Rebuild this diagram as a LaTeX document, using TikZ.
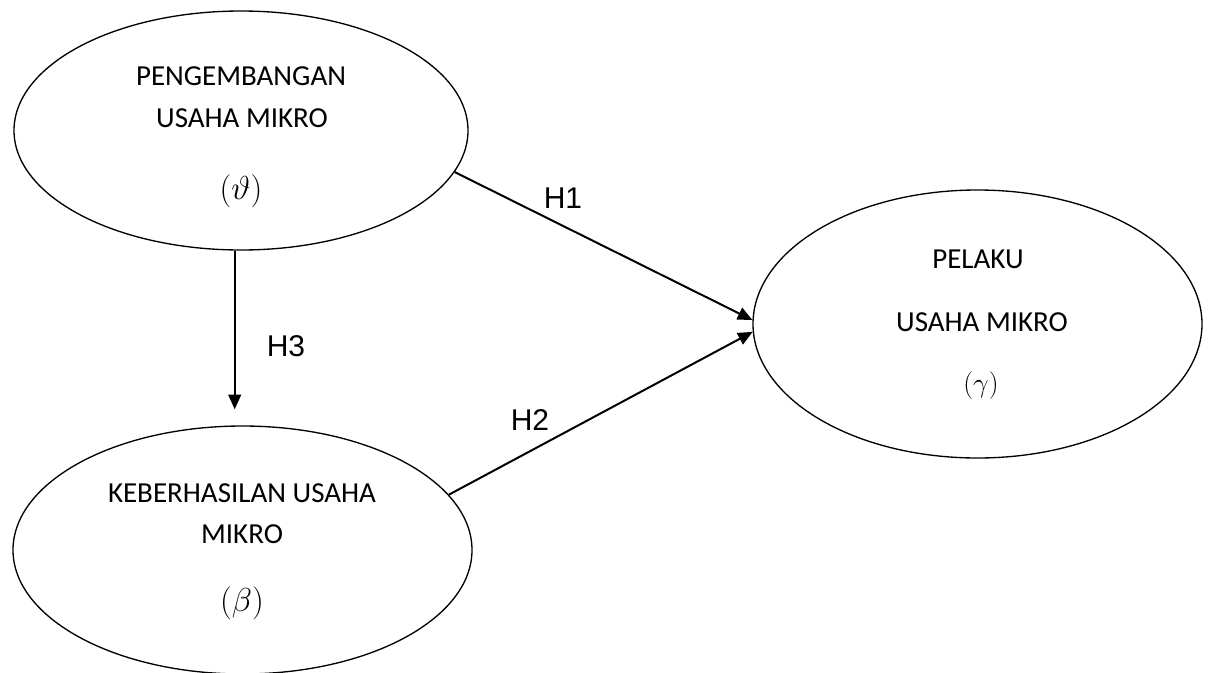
\documentclass[tikz,border=0pt]{standalone}
\usepackage{fontspec}
\newfontfamily\carlito{Carlito}
\newfontfamily\arialf{Liberation Sans}
\usetikzlibrary{shapes.geometric,arrows.meta}
\begin{document}
\begin{tikzpicture}[x=0.75pt,y=-0.75pt,
  ell/.style={draw, ellipse, line width=1pt, inner sep=0pt},
  txt/.style={font=\carlito\fontsize{21.75pt}{26pt}\selectfont, inner sep=0pt},
  sym/.style={font=\fontsize{23.5pt}{28pt}\selectfont, inner sep=0pt},
  symsmall/.style={font=\fontsize{20.5pt}{24pt}\selectfont, inner sep=0pt},
  hyp/.style={font=\arialf\fontsize{22.5pt}{27pt}\selectfont, inner sep=0pt},
  arr/.style={line width=1.5pt, -{Triangle[length=11pt,width=9.5pt]}}]
\useasboundingbox (0,0) rectangle (1211,672);
% ellipses
\node[ell, minimum width=340.5pt, minimum height=179.25pt] (pum) at (241,130.5) {};
\node[ell, minimum width=344.25pt, minimum height=186pt] (kum) at (242.5,550) {};
\node[ell, minimum width=336.75pt, minimum height=201pt] (rel) at (977.5,324) {};
% texts
\node[txt] (pumA) at (241,76) {PENGEMBANGAN};
\node[txt] (pumB) at (242,118) {USAHA MIKRO};
\node[sym] (pumC) at (241,191) {$(\vartheta)$};
\node[txt] (kumA) at (242,493) {KEBERHASILAN USAHA};
\node[txt] (kumB) at (242,534) {MIKRO};
\node[sym] (kumC) at (242,603) {$(\beta)$};
\node[txt] (relA) at (978,259) {PELAKU};
\node[txt] (relB) at (982,322) {USAHA MIKRO};
\node[symsmall] (relC) at (981,386) {$(\gamma)$};
% connectors
\draw[arr] (pum.-11.1) -- (rel.179.2);
\draw[arr] (kum.15.6) -- (rel.182);
\draw[arr, shorten >=12pt] (pum.-93) -- (pum.-93 |- kum.north);
% hypothesis labels
\node[hyp] (h1) at (563,198) {H1};
\node[hyp] (h2) at (530,420) {H2};
\node[hyp] (h3) at (286,346) {H3};
\end{tikzpicture}
\end{document}
